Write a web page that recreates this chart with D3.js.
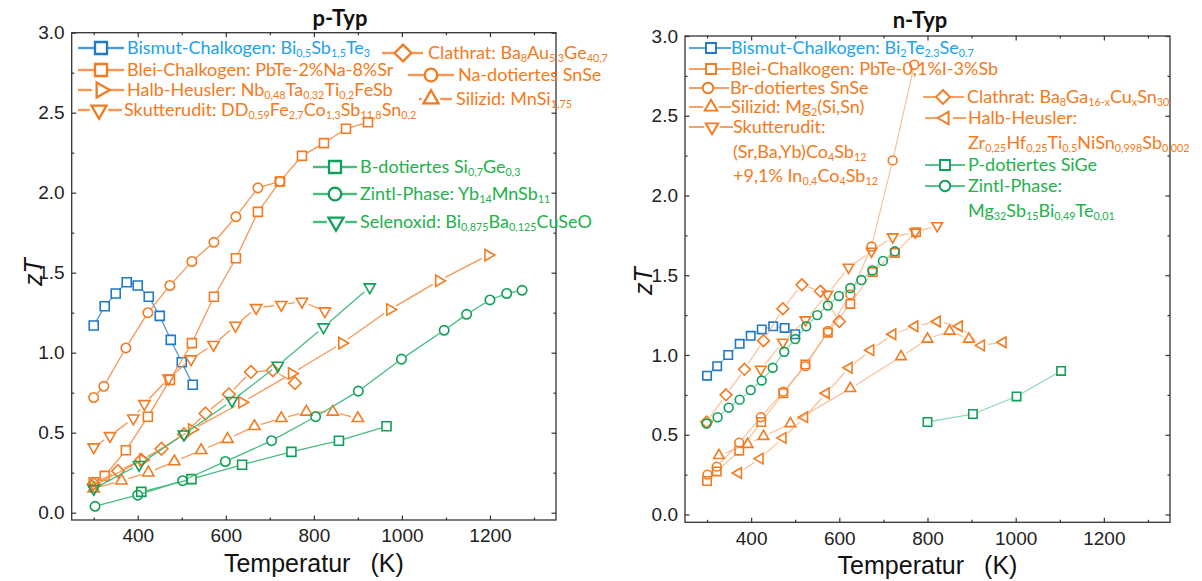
<!DOCTYPE html>
<html><head><meta charset="utf-8">
<script src="https://cdn.jsdelivr.net/npm/d3@7"></script>
<style>body{margin:0;background:#fff} svg{display:block}</style>
</head><body>
<svg id="chart" width="1202" height="581"></svg>
<script>
// ---- axis ticks ----
const xMajor = [400, 600, 800, 1000, 1200];
const xMinor = [300, 500, 700, 900, 1100, 1300];
const yMajor = [0, 0.5, 1.0, 1.5, 2.0, 2.5, 3.0];
const yMinor = [0.25, 0.75, 1.25, 1.75, 2.25, 2.75];

// ---- p-type materials: [T in K, zT] ----
const pBismut = [[300,1.17],[325,1.29],[350,1.37],[375,1.44],[400,1.42],[425,1.35],[450,1.23],[475,1.08],[500,0.94],[525,0.80]];
const pBlei = [[300,0.19],[325,0.23],[373,0.39],[423,0.60],[473,0.83],[523,1.06],[573,1.35],[623,1.59],[673,1.88],[723,2.07],[773,2.23],[823,2.31],[873,2.40],[923,2.44]];
const pHalbHeusler = [[300,0.17],[412,0.33],[523,0.52],[637,0.69],[750,0.87],[864,1.06],[973,1.27],[1084,1.45],[1196,1.61]];
const pSkutterudit = [[300,0.41],[337,0.48],[390,0.59],[415,0.68],[470,0.84],[521,0.96],[572,1.05],[622,1.17],[669,1.28],[726,1.30],[773,1.32],[825,1.26]];
const pClathrat = [[300,0.18],[355,0.26],[408,0.33],[454,0.40],[505,0.49],[554,0.62],[607,0.74],[657,0.88],[707,0.89],[757,0.81]];
const pSnSe = [[300,0.72],[323,0.79],[373,1.03],[423,1.25],[473,1.42],[523,1.57],[573,1.69],[623,1.85],[673,2.03],[723,2.07]];
const pSilizid = [[300,0.15],[363,0.20],[424,0.25],[483,0.32],[544,0.39],[604,0.46],[665,0.54],[726,0.59],[783,0.63],[843,0.63],[900,0.59]];
const pSiGe = [[408,0.13],[522,0.21],[637,0.30],[749,0.38],[857,0.45],[965,0.54]];
const pZintl = [[303,0.04],[400,0.11],[502,0.20],[599,0.32],[704,0.45],[804,0.60],[901,0.76],[999,0.96],[1096,1.14],[1147,1.24],[1200,1.33],[1238,1.37],[1273,1.39]];
const pSelenoxid = [[300,0.15],[403,0.30],[505,0.49],[614,0.70],[718,0.92],[822,1.16],[927,1.41]];

// ---- n-type materials: [T in K, zT] ----
const nBismut = [[300,0.87],[323,0.93],[348,1.00],[374,1.07],[399,1.12],[424,1.16],[450,1.18],[476,1.17],[500,1.13]];
const nBlei = [[300,0.21],[322,0.27],[373,0.40],[423,0.58],[473,0.76],[523,0.94],[574,1.14],[625,1.32],[676,1.52],[726,1.64],[774,1.77]];
const nSnSe = [[301,0.25],[322,0.30],[373,0.45],[422,0.61],[473,0.77],[523,0.93],[574,1.15],[625,1.38],[673,1.68],[721,2.22],[770,2.82]];
const nSilizid = [[327,0.37],[392,0.44],[428,0.49],[489,0.57],[625,0.79],[740,0.99],[800,1.10],[850,1.15],[894,1.10]];
const nSkutterudit = [[422,0.91],[472,1.08],[523,1.22],[573,1.38],[621,1.55],[673,1.65],[721,1.74],[772,1.77],[822,1.81]];
const nClathrat = [[299,0.58],[343,0.75],[385,0.91],[428,1.09],[472,1.29],[515,1.44],[557,1.40],[600,1.21]];
const nHalbHeusler = [[371,0.26],[420,0.35],[472,0.48],[521,0.61],[570,0.76],[622,0.92],[671,1.03],[721,1.13],[771,1.18],[822,1.21],[872,1.18],[922,1.06],[971,1.08]];
const nSiGe = [[800,0.58],[903,0.63],[1002,0.74],[1103,0.90]];
const nZintl = [[299,0.57],[324,0.61],[349,0.67],[374,0.72],[399,0.78],[424,0.84],[449,0.92],[475,1.02],[500,1.10],[525,1.18],[550,1.25],[574,1.31],[599,1.37],[625,1.42],[650,1.47],[675,1.53],[699,1.59],[726,1.65]];

// ---- legend labels (_{...} = subscript) ----
const pLabels = {
  bismut: "Bismut-Chalkogen: Bi_{0,5}Sb_{1,5}Te_{3}",
  blei: "Blei-Chalkogen: PbTe-2%Na-8%Sr",
  heusler: "Halb-Heusler: Nb_{0,48}Ta_{0,32}Ti_{0,2}FeSb",
  skutt: "Skutterudit: DD_{0,59}Fe_{2,7}Co_{1,3}Sb_{11,8}Sn_{0,2}",
  clathrat: "Clathrat: Ba_{8}Au_{5,3}Ge_{40,7}",
  snse: "Na-dotiertes SnSe",
  silizid: "Silizid: MnSi_{1,75}",
  sige: "B-dotiertes Si_{0,7}Ge_{0,3}",
  zintl: "Zintl-Phase: Yb_{14}MnSb_{11}",
  seleno: "Selenoxid: Bi_{0,875}Ba_{0,125}CuSeO"
};
const nLabels = {
  bismut: ["Bismut-Chalkogen: Bi_{2}Te_{2.3}Se_{0.7}"],
  blei: ["Blei-Chalkogen: PbTe-0,1%I-3%Sb"],
  snse: ["Br-dotiertes SnSe"],
  silizid: ["Silizid: Mg_{2}(Si,Sn)"],
  skutt: ["Skutterudit:", "(Sr,Ba,Yb)Co_{4}Sb_{12}", "+9,1% In_{0,4}Co_{4}Sb_{12}"],
  clathrat: ["Clathrat: Ba_{8}Ga_{16-x}Cu_{x}Sn_{30}"],
  heusler: ["Halb-Heusler:", "Zr_{0,25}Hf_{0,25}Ti_{0,5}NiSn_{0,998}Sb_{0,002}"],
  sige: ["P-dotiertes SiGe"],
  zintl: ["Zintl-Phase:", "Mg_{32}Sb_{15}Bi_{0,49}Te_{0,01}"]
};
const titles = ["p-Typ", "n-Typ"];
const xTitle = ["Temperatur", "(K)"];
const yTitle = "zT";

// ---- colours ----
const C = {
  blue:   {mark: "#1f78c8", line: "#4b9ad9", text: "#20a2ea"},
  orange: {mark: "#f47a20", line: "#f79655", text: "#f47a20"},
  green:  {mark: "#0e9f58", line: "#45bd80", text: "#22b14c"}
};

const svg = d3.select("#chart");
const LEG_FONT = "Lato, 'Open Sans', sans-serif";
const AX_FONT = "'Liberation Sans', Arial, sans-serif";

// marker outline centred on (0,0); s = half size
function markerPath(type, s) {
  const R = s, h = R * 0.866;
  switch (type) {
    case "square": return `M${-s},${-s}h${2*s}v${2*s}h${-2*s}Z`;
    case "circle": return `M${s},0A${s},${s} 0 1 1 ${-s},0A${s},${s} 0 1 1 ${s},0Z`;
    case "up": return `M0,${-R}L${h},${R/2}L${-h},${R/2}Z`;
    case "down": return `M0,${R}L${h},${-R/2}L${-h},${-R/2}Z`;
    case "right": return `M${R},0L${-R/2},${h}L${-R/2},${-h}Z`;
    case "left": return `M${-R},0L${R/2},${h}L${R/2},${-h}Z`;
    case "diamond": return `M0,${-s}L${s},0L0,${s}L${-s},0Z`;
  }
}
function markerSize(type, base) {
  return {square: base, circle: base * 1.05, up: base * 1.45, down: base * 1.45,
          right: base * 1.45, left: base * 1.45, diamond: base * 1.4}[type];
}

// rich text with subscripts
function richText(g, str, x, y, size, color) {
  const t = g.append("text").attr("x", x).attr("y", y)
    .attr("font-family", LEG_FONT).attr("font-size", size).attr("fill", color);
  const parts = str.split(/(_\{[^}]*\})/).filter(d => d.length);
  const drop = size * 0.17;
  let sub = false;
  parts.forEach(p => {
    if (p.startsWith("_{")) {
      t.append("tspan").attr("font-size", size * 0.6).attr("dy", sub ? 0 : drop)
        .text(p.slice(2, -1));
      sub = true;
    } else {
      t.append("tspan").attr("dy", sub ? -drop : 0).text(p);
      sub = false;
    }
  });
  return t;
}

// line segments between consecutive points, trimmed so markers stay open
function trimmedSegments(pts, gap) {
  const segs = [];
  for (let i = 1; i < pts.length; i++) {
    const [x0, y0] = pts[i - 1], [x1, y1] = pts[i];
    const dx = x1 - x0, dy = y1 - y0, L = Math.hypot(dx, dy);
    if (L <= 2 * gap) continue;
    const ux = dx / L, uy = dy / L;
    segs.push([[x0 + ux * gap, y0 + uy * gap], [x1 - ux * gap, y1 - uy * gap]]);
  }
  return segs;
}

function drawPanel(cfg) {
  const x = d3.scaleLinear().domain([250, 1350]).range([cfg.left, cfg.right]);
  const y = d3.scaleLinear().domain([cfg.yMin, 3.0]).range([cfg.bottom, cfg.top]);
  const g = svg.append("g");

  // series
  cfg.series.forEach(s => {
    const col = C[s.color];
    const pts = s.data.map(d => [x(d[0]), y(d[1])]);
    const gap = markerSize(s.marker, cfg.mk) + 0.6;
    g.append("g").selectAll("line").data(trimmedSegments(pts, gap)).join("line")
      .attr("x1", d => d[0][0]).attr("y1", d => d[0][1])
      .attr("x2", d => d[1][0]).attr("y2", d => d[1][1])
      .attr("stroke", col.line).attr("stroke-width", cfg.lw).attr("stroke-opacity", cfg.lineOpacity);
    g.append("g").selectAll("path").data(pts).join("path")
      .attr("transform", d => `translate(${d[0]},${d[1]})`)
      .attr("d", markerPath(s.marker, markerSize(s.marker, cfg.mk)))
      .attr("fill", "none").attr("stroke", col.mark).attr("stroke-width", cfg.mw);
  });

  // frame and ticks
  const axes = svg.append("g").attr("font-family", AX_FONT);
  const styleAxis = (sel) => {
    sel.select(".domain").remove();
    sel.selectAll(".tick line").attr("stroke", "#333").attr("stroke-width", 1.2);
    sel.selectAll(".tick text").attr("fill", "#222").attr("font-size", 19).attr("font-family", AX_FONT);
  };
  axes.append("g").attr("transform", `translate(0,${cfg.bottom})`)
    .call(d3.axisBottom(x).tickValues(xMajor).tickFormat(d3.format("d")).tickSize(-4.5).tickPadding(9)).call(styleAxis);
  axes.append("g").attr("transform", `translate(0,${cfg.bottom})`)
    .call(d3.axisBottom(x).tickValues(xMinor).tickFormat("").tickSize(-2.5)).call(styleAxis);
  axes.append("g").attr("transform", `translate(0,${cfg.top})`)
    .call(d3.axisTop(x).tickValues(xMajor).tickFormat("").tickSize(-4.5)).call(styleAxis);
  axes.append("g").attr("transform", `translate(0,${cfg.top})`)
    .call(d3.axisTop(x).tickValues(xMinor).tickFormat("").tickSize(-2.5)).call(styleAxis);
  axes.append("g").attr("transform", `translate(${cfg.left},0)`)
    .call(d3.axisLeft(y).tickValues(yMajor).tickFormat(d3.format(".1f")).tickSize(-4.5).tickPadding(7)).call(styleAxis);
  axes.append("g").attr("transform", `translate(${cfg.left},0)`)
    .call(d3.axisLeft(y).tickValues(yMinor).tickFormat("").tickSize(-2.5)).call(styleAxis);
  axes.append("g").attr("transform", `translate(${cfg.right},0)`)
    .call(d3.axisRight(y).tickValues(yMajor).tickFormat("").tickSize(-4.5)).call(styleAxis);
  axes.append("g").attr("transform", `translate(${cfg.right},0)`)
    .call(d3.axisRight(y).tickValues(yMinor).tickFormat("").tickSize(-2.5)).call(styleAxis);
  axes.append("rect").attr("x", cfg.left).attr("y", cfg.top)
    .attr("width", cfg.right - cfg.left).attr("height", cfg.bottom - cfg.top)
    .attr("fill", "none").attr("stroke", "#333").attr("stroke-width", 1.3);

  // axis titles
  const xt = axes.append("text").attr("x", (cfg.left + cfg.right) / 2).attr("y", cfg.bottom + 52)
    .attr("text-anchor", "middle").attr("font-size", 25).attr("fill", "#111");
  xt.append("tspan").text(xTitle[0]);
  xt.append("tspan").attr("dx", 20).text(xTitle[1]);
  axes.append("text").attr("transform", `translate(${cfg.yTitleX},${cfg.yTitleY}) rotate(-90)`)
    .attr("text-anchor", "middle").attr("dominant-baseline", "central")
    .attr("font-size", 25).attr("font-style", "italic").attr("fill", "#111").text(yTitle);

  // panel title
  svg.append("text").attr("x", cfg.titleX).attr("y", cfg.titleY).attr("text-anchor", "middle")
    .attr("font-family", LEG_FONT).attr("font-weight", "bold").attr("font-size", 22)
    .attr("fill", "#111").text(cfg.title);

  // legend
  const lg = svg.append("g");
  cfg.legend.forEach(e => {
    const col = C[e.color];
    const ms = markerSize(e.marker, cfg.legMk);
    lg.append("line").attr("x1", e.lx0).attr("x2", e.mx - ms - 0.5).attr("y1", e.y).attr("y2", e.y)
      .attr("stroke", col.line).attr("stroke-width", cfg.legLw);
    lg.append("line").attr("x1", e.mx + ms + 0.5).attr("x2", e.lx1).attr("y1", e.y).attr("y2", e.y)
      .attr("stroke", col.line).attr("stroke-width", cfg.legLw);
    lg.append("path").attr("transform", `translate(${e.mx},${e.y})`)
      .attr("d", markerPath(e.marker, ms)).attr("fill", "none")
      .attr("stroke", col.mark).attr("stroke-width", cfg.legMw);
    e.lines.forEach((txt, i) => {
      richText(lg, txt, e.tx, e.y + 6 + i * cfg.legLead, cfg.legFont, col.text);
    });
  });
}

// left panel: p-type
drawPanel({
  title: titles[0], titleX: 340, titleY: 26,
  left: 71.7, right: 556, top: 32.7, bottom: 520, yMin: -0.0456,
  yTitleX: 33, yTitleY: 272,
  mk: 4.5, mw: 1.6, lw: 1.3, lineOpacity: 1,
  legMk: 6, legMw: 2.3, legLw: 2.4, legFont: 18, legLead: 24,
  series: [
    {data: pBismut, marker: "square", color: "blue"},
    {data: pBlei, marker: "square", color: "orange"},
    {data: pHalbHeusler, marker: "right", color: "orange"},
    {data: pSkutterudit, marker: "down", color: "orange"},
    {data: pClathrat, marker: "diamond", color: "orange"},
    {data: pSnSe, marker: "circle", color: "orange"},
    {data: pSilizid, marker: "up", color: "orange"},
    {data: pSiGe, marker: "square", color: "green"},
    {data: pZintl, marker: "circle", color: "green"},
    {data: pSelenoxid, marker: "down", color: "green"}
  ],
  legend: [
    {lines: [pLabels.bismut], marker: "square", color: "blue", lx0: 78, lx1: 124, mx: 101, tx: 127, y: 48},
    {lines: [pLabels.blei], marker: "square", color: "orange", lx0: 78, lx1: 124, mx: 101, tx: 127, y: 70},
    {lines: [pLabels.heusler], marker: "right", color: "orange", lx0: 78, lx1: 124, mx: 101, tx: 127, y: 90},
    {lines: [pLabels.skutt], marker: "down", color: "orange", lx0: 78, lx1: 122, mx: 99, tx: 124, y: 110},
    {lines: [pLabels.clathrat], marker: "diamond", color: "orange", lx0: 382, lx1: 423, mx: 403, tx: 428, y: 53},
    {lines: [pLabels.snse], marker: "circle", color: "orange", lx0: 408, lx1: 454, mx: 431, tx: 458, y: 75},
    {lines: [pLabels.silizid], marker: "up", color: "orange", lx0: 419, lx1: 452, mx: 431, tx: 456, y: 99},
    {lines: [pLabels.sige], marker: "square", color: "green", lx0: 313, lx1: 357, mx: 335, tx: 360, y: 167},
    {lines: [pLabels.zintl], marker: "circle", color: "green", lx0: 313, lx1: 357, mx: 335, tx: 360, y: 194},
    {lines: [pLabels.seleno], marker: "down", color: "green", lx0: 313, lx1: 357, mx: 336, tx: 360, y: 222}
  ]
});

// right panel: n-type
drawPanel({
  title: titles[1], titleX: 920, titleY: 28,
  left: 685, right: 1170, top: 36, bottom: 522.3, yMin: -0.049,
  yTitleX: 643, yTitleY: 281,
  mk: 4.2, mw: 1.6, lw: 1.2, lineOpacity: 0.6,
  legMk: 5, legMw: 1.9, legLw: 1.8, legFont: 18, legLead: 24.5,
  series: [
    {data: nBismut, marker: "square", color: "blue"},
    {data: nBlei, marker: "square", color: "orange"},
    {data: nSnSe, marker: "circle", color: "orange"},
    {data: nSilizid, marker: "up", color: "orange"},
    {data: nSkutterudit, marker: "down", color: "orange"},
    {data: nClathrat, marker: "diamond", color: "orange"},
    {data: nHalbHeusler, marker: "left", color: "orange"},
    {data: nSiGe, marker: "square", color: "green"},
    {data: nZintl, marker: "circle", color: "green"}
  ],
  legend: [
    {lines: nLabels.bismut, marker: "square", color: "blue", lx0: 689, lx1: 731, mx: 711, tx: 731, y: 48},
    {lines: nLabels.blei, marker: "square", color: "orange", lx0: 689, lx1: 731, mx: 711, tx: 731, y: 69},
    {lines: nLabels.snse, marker: "circle", color: "orange", lx0: 689, lx1: 729, mx: 708, tx: 730, y: 88},
    {lines: nLabels.silizid, marker: "up", color: "orange", lx0: 689, lx1: 731, mx: 711, tx: 731, y: 107},
    {lines: nLabels.skutt, marker: "down", color: "orange", lx0: 689, lx1: 733, mx: 712, tx: 733, y: 127},
    {lines: nLabels.clathrat, marker: "diamond", color: "orange", lx0: 923, lx1: 964, mx: 943, tx: 967, y: 97},
    {lines: nLabels.heusler, marker: "left", color: "orange", lx0: 925, lx1: 966, mx: 945, tx: 968, y: 118},
    {lines: nLabels.sige, marker: "square", color: "green", lx0: 925, lx1: 965, mx: 945, tx: 968, y: 165},
    {lines: nLabels.zintl, marker: "circle", color: "green", lx0: 925, lx1: 965, mx: 945, tx: 968, y: 186}
  ]
});
</script>
</body></html>
